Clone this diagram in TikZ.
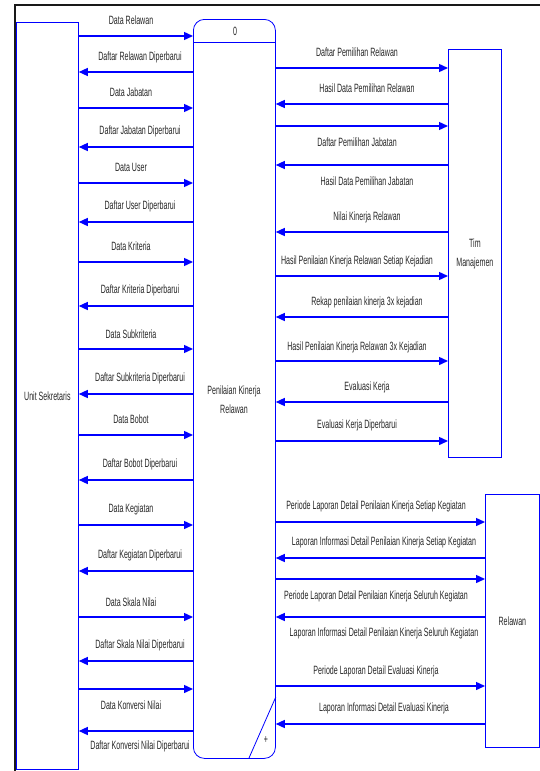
\documentclass[tikz,border=0pt]{standalone}
\usepackage{fontspec}
\setmainfont{Liberation Sans}
\usetikzlibrary{arrows.meta,positioning,calc}
\tikzset{
        % external entities and process box
        entity/.style={draw=blue, line width=0.8pt, inner sep=0pt},
        % data flows
        flow/.style={draw=blue, line width=1.4pt, -{Triangle[length=9pt,width=8pt]}},
        % all texts (narrow face)
        txt/.style={font=\fontsize{12}{19}\selectfont, text=black!85, xscale=0.59, inner sep=1pt, align=center}
}
\begin{document}
\begin{tikzpicture}[x=1pt, y=-1pt]
    \useasboundingbox (0,0) rectangle (540,771);
    % frame
    \draw[line width=2pt, black!90] (540,5) -- (15,5) -- (15,771);

    % entities
    \node[entity, minimum width=62pt, minimum height=747pt, anchor=north west] (sek) at (16,22) {};
    \node[entity, rounded corners=11pt, minimum width=82pt, minimum height=739pt, anchor=north west] (proc) at (193,19) {};
    \node[entity, minimum width=53pt, minimum height=408pt, anchor=north west] (tim) at (448,49) {};
    \node[entity, minimum width=54pt, minimum height=253pt, anchor=north west] (rel) at (485,494) {};
    \draw[entity] (proc.west |- 0,42) -- (proc.east |- 0,42);
    \draw[entity] (249,758) -- (proc.east |- 0,697);

    \node[txt] (sek_t) at (sek.center) {Unit Sekretaris};
    \node[txt] (proc_id) at (235,31) {0};
    \node[txt] (proc_t) at (234,400) {Penilaian Kinerja\\Relawan};
    \node[txt] (proc_plus) at (266,740) {+};
    \node[txt] (tim_t) at (tim.center) {Tim\\Manajemen};
    \node[txt] (rel_t) at (rel.center) {Relawan};

    % Unit Sekretaris -> proses
    \foreach \y/\ly/\t in {36/20/Data Relawan, 108/92/Data Jabatan, 183/167/Data User,
            262/246/Data Kriteria, 349/334/Data Subkriteria, 435/419/Data Bobot,
            525/509/Data Kegiatan, 617/602/Data Skala Nilai, 689/705/Data Konversi Nilai}{
        \draw[flow] (sek.east |- 0,\y) -- (proc.west |- 0,\y);
        \node[txt] (in\y) at (131,\ly) {\t};
    }
    % proses -> Unit Sekretaris
    \foreach \y/\ly/\t in {72/57/Daftar Relawan Diperbarui, 147/131/Daftar Jabatan Diperbarui,
            222/206/Daftar User Diperbarui, 306/290/Daftar Kriteria Diperbarui,
            394/378/Daftar Subkriteria Diperbarui, 480/464/Daftar Bobot Diperbarui,
            571/555/Daftar Kegiatan Diperbarui, 661/645/Daftar Skala Nilai Diperbarui,
            731/746/Daftar Konversi Nilai Diperbarui}{
        \draw[flow] (proc.west |- 0,\y) -- (sek.east |- 0,\y);
        \node[txt] (out\y) at (140,\ly) {\t};
    }

    % proses -> Tim Manajemen
    \foreach \y/\ly/\t in {68/52/Daftar Pemilihan Relawan, 126/142/Daftar Pemilihan Jabatan,
            276/261/Hasil Penilaian Kinerja Relawan Setiap Kejadian,
            361/347/Hasil Penilaian Kinerja Relawan 3x Kejadian,
            441/425/Evaluasi Kerja Diperbarui}{
        \draw[flow] (proc.east |- 0,\y) -- (tim.west |- 0,\y);
        \node[txt] (tin\y) at (357,\ly) {\t};
    }
    % Tim Manajemen -> proses
    \foreach \y/\ly/\t in {104/88/Hasil Data Pemilihan Relawan, 165/181/Hasil Data Pemilihan Jabatan,
            232/217/Nilai Kinerja Relawan, 317/302/Rekap penilaian kinerja 3x kejadian,
            402/387/Evaluasi Kerja}{
        \draw[flow] (tim.west |- 0,\y) -- (proc.east |- 0,\y);
        \node[txt] (tout\y) at (367,\ly) {\t};
    }

    % proses -> Relawan
    \foreach \y/\ly/\t in {522/506/Periode Laporan Detail Penilaian Kinerja Setiap Kegiatan,
            579/596/Periode Laporan Detail Penilaian Kinerja Seluruh Kegiatan,
            686/671/Periode Laporan Detail Evaluasi Kinerja}{
        \draw[flow] (proc.east |- 0,\y) -- (rel.west |- 0,\y);
        \node[txt] (rin\y) at (376,\ly) {\t};
    }
    % Relawan -> proses
    \foreach \y/\ly/\t in {558/542/Laporan Informasi Detail Penilaian Kinerja Setiap Kegiatan,
            617/633/Laporan Informasi Detail Penilaian Kinerja Seluruh Kegiatan,
            724/708/Laporan Informasi Detail Evaluasi Kinerja}{
        \draw[flow] (rel.west |- 0,\y) -- (proc.east |- 0,\y);
        \node[txt] (rout\y) at (384,\ly) {\t};
    }
\end{tikzpicture}
\end{document}
